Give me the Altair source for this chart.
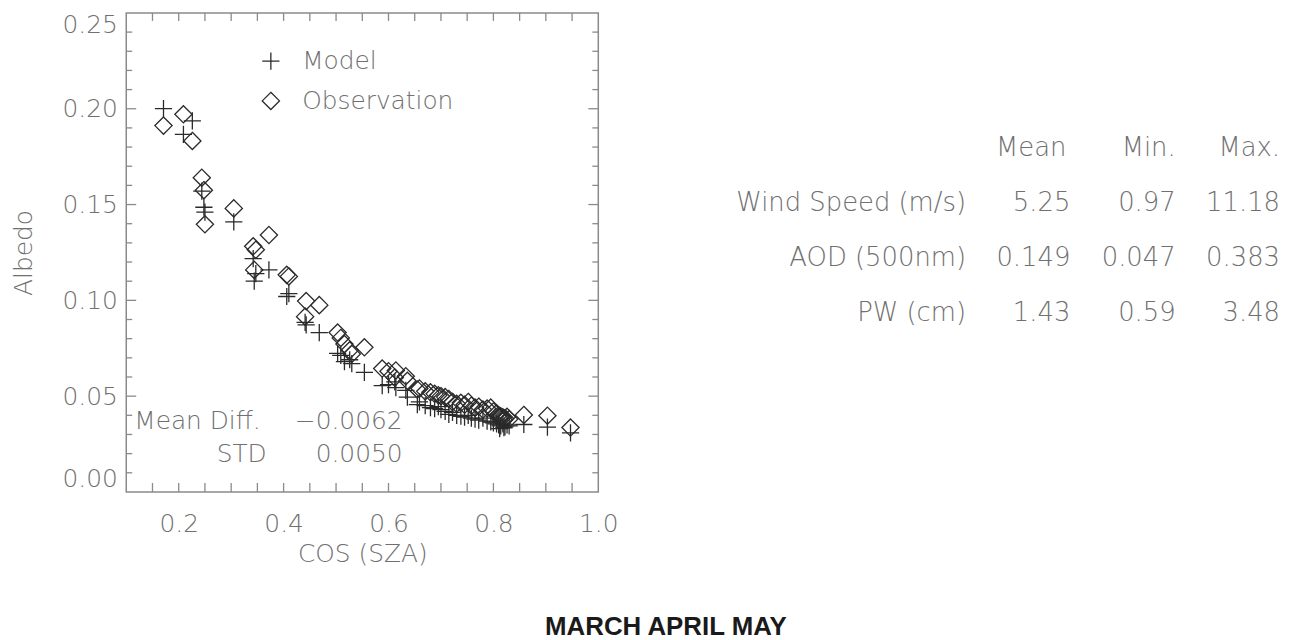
import altair as alt
import pandas as pd

# ---------------- data ----------------
cos_sza = [0.171, 0.209, 0.226, 0.244, 0.248, 0.250, 0.305, 0.342, 0.347, 0.344,
           0.372, 0.406, 0.410, 0.443, 0.441, 0.468, 0.503, 0.509, 0.516, 0.526,
           0.530, 0.554, 0.588, 0.600, 0.614, 0.633, 0.612, 0.636, 0.655, 0.659,
           0.670, 0.680, 0.688, 0.695, 0.700, 0.708, 0.715, 0.722, 0.730, 0.738,
           0.745, 0.752, 0.758, 0.765, 0.772, 0.780, 0.788, 0.795, 0.800, 0.806,
           0.810, 0.814, 0.818, 0.822, 0.826, 0.830, 0.812, 0.820, 0.858, 0.903,
           0.947]
albedo_model = [0.2001, 0.1866, 0.1937, 0.1570, 0.1486, 0.1460, 0.1410, 0.1218, 0.1139, 0.1100,
                0.1159, 0.1020, 0.1035, 0.0872, 0.0885, 0.0832, 0.0723, 0.0713, 0.0680, 0.0690,
                0.0670, 0.0624, 0.0555, 0.0560, 0.0545, 0.0530, 0.0575, 0.0495, 0.0456, 0.0470,
                0.0450, 0.0440, 0.0435, 0.0445, 0.0430, 0.0420, 0.0405, 0.0415, 0.0400, 0.0395,
                0.0390, 0.0400, 0.0385, 0.0380, 0.0375, 0.0385, 0.0370, 0.0365, 0.0360, 0.0355,
                0.0350, 0.0345, 0.0355, 0.0340, 0.0350, 0.0345, 0.0330, 0.0335, 0.0352, 0.0338,
                0.0308]
albedo_obs = [0.1912, 0.1971, 0.1832, 0.1640, 0.1575, 0.1397, 0.1480, 0.1282, 0.1264, 0.1159,
              0.1341, 0.1133, 0.1125, 0.0996, 0.0915, 0.0975, 0.0832, 0.0804, 0.0772, 0.0739,
              0.0720, 0.0755, 0.0644, 0.0630, 0.0634, 0.0604, 0.0597, 0.0580, 0.0535, 0.0540,
              0.0525, 0.0520, 0.0512, 0.0505, 0.0500, 0.0495, 0.0485, 0.0470, 0.0460, 0.0465,
              0.0455, 0.0470, 0.0450, 0.0440, 0.0445, 0.0430, 0.0435, 0.0440, 0.0420, 0.0410,
              0.0400, 0.0395, 0.0390, 0.0385, 0.0392, 0.0380, 0.0385, 0.0375, 0.0402, 0.0398,
              0.0336]

series_names = ["Model", "Observation"]

x_label_values = [0.2, 0.4, 0.6, 0.8, 1.0]
y_label_values = [0.00, 0.05, 0.10, 0.15, 0.20, 0.25]
x_tick_values = [0.15, 0.20, 0.25, 0.30, 0.35, 0.40, 0.45, 0.50, 0.55,
                 0.60, 0.65, 0.70, 0.75, 0.80, 0.85, 0.90, 0.95]
y_tick_major = [0.05, 0.10, 0.15, 0.20]
y_tick_minor = [0.01, 0.02, 0.03, 0.04, 0.06, 0.07, 0.08, 0.09, 0.11, 0.12,
                0.13, 0.14, 0.16, 0.17, 0.18, 0.19, 0.21, 0.22, 0.23, 0.24]

x_title = "COS (SZA)"
y_title = "Albedo"

stat_names = ["Mean Diff.", "STD"]
stat_values = ["\u22120.0062", "0.0050"]

table_header = ["Mean", "Min.", "Max."]
table_rows = ["Wind Speed (m/s)", "AOD (500nm)", "PW (cm)"]
table_mean = ["5.25", "0.149", "1.43"]
table_min = ["0.97", "0.047", "0.59"]
table_max = ["11.18", "0.383", "3.48"]

season = "MARCH APRIL MAY"

# ---------------- styling ----------------
W, H = 475, 482
FONT = "DejaVu Sans"
FW = 200
GRAY = "#707070"
AXC = "#8a8a8a"
MARK = "#2a2a2a"
FS = 25
TFS = 26

CROSS = "M-1,0L1,0M0,-1L0,1"
DIAMOND = "M0,-1L1,0L0,1L-1,0Z"

xs = alt.Scale(domain=[0.1, 1.0], nice=False, zero=False)
ys = alt.Scale(domain=[0.0, 0.25], nice=False, zero=False)

xaxis = alt.Axis(values=x_label_values, format=".1f", ticks=False, domain=False, grid=False,
                 labelFlush=False, labelPadding=20, labelFontSize=FS, labelFont=FONT,
                 labelFontWeight=FW, labelColor=GRAY, title=x_title, titleFontSize=FS,
                 titleFont=FONT, titleFontWeight=FW, titleColor=GRAY, titleY=50,
                 titleBaseline="top")
yaxis = alt.Axis(values=y_label_values, format=".2f", ticks=False, domain=False, grid=False,
                 labelPadding=9, labelFlush=True, labelFontSize=FS, labelFont=FONT,
                 labelFontWeight=FW, labelColor=GRAY, title=y_title, titleFontSize=FS,
                 titleFont=FONT, titleFontWeight=FW, titleColor=GRAY, titleX=-103,
                 titleY=H / 2, titleBaseline="middle", titleAngle=270)

n = len(cos_sza)
df = pd.DataFrame({
    "cos": cos_sza + cos_sza,
    "albedo": albedo_model + albedo_obs,
    "series": [series_names[0]] * n + [series_names[1]] * n,
})

points = alt.Chart(df).mark_point(filled=False, size=300, strokeWidth=1.3, color=MARK,
                                  opacity=1).encode(
    x=alt.X("cos:Q", scale=xs, axis=xaxis),
    y=alt.Y("albedo:Q", scale=ys, axis=yaxis),
    shape=alt.Shape("series:N",
                    scale=alt.Scale(domain=series_names, range=[CROSS, DIAMOND]),
                    legend=alt.Legend(title=None, orient="none", legendX=133, legendY=36,
                                      labelFontSize=FS, labelFont=FONT, labelFontWeight=FW,
                                      labelColor=GRAY, symbolSize=300, symbolStrokeWidth=1.3,
                                      symbolStrokeColor=MARK, symbolFillColor="transparent",
                                      labelOffset=19, rowPadding=14, padding=0)),
)

tick_df_x = pd.DataFrame({"cos": x_tick_values})
tick_df_ymaj = pd.DataFrame({"albedo": y_tick_major})
tick_df_ymin = pd.DataFrame({"albedo": y_tick_minor})


def xtick(y0, y1):
    return alt.Chart(tick_df_x).mark_rule(color=AXC, strokeWidth=1.3).encode(
        x=alt.X("cos:Q", scale=xs, axis=xaxis), y=alt.value(y0), y2=alt.value(y1))


def ytick(data, x0, x1):
    return alt.Chart(data).mark_rule(color=AXC, strokeWidth=1.3).encode(
        y=alt.Y("albedo:Q", scale=ys, axis=yaxis), x=alt.value(x0), x2=alt.value(x1))


ticks = [
    xtick(H, H - 9), xtick(0, 8),
    ytick(tick_df_ymaj, 0, 10), ytick(tick_df_ymin, 0, 6),
    ytick(tick_df_ymaj, W, W - 10), ytick(tick_df_ymin, W, W - 6),
]


def label(txt, x, y, align="left", baseline="alphabetic", size=FS, color=GRAY,
          font=FONT, weight=FW):
    return alt.Chart(pd.DataFrame({"t": [txt]})).mark_text(
        align=align, baseline=baseline, fontSize=size, color=color, font=font,
        fontWeight=weight).encode(text="t:N", x=alt.value(x), y=alt.value(y))


texts = [
    label(stat_names[0], 8, 419),
    label(stat_values[0], 278, 419, align="right"),
    label(stat_names[1], 91, 452),
    label(stat_values[1], 278, 452, align="right"),
]

col_right = [950, 1056, 1161]
row_y = [191, 247, 302]
for j, h in enumerate(table_header):
    texts.append(label(h, col_right[j] - (4 if j == 0 else 0), 136, align="right",
                       baseline="middle", size=TFS))
for i, r in enumerate(table_rows):
    texts.append(label(r, 845, row_y[i], align="right", baseline="middle", size=TFS))
    for j, col in enumerate([table_mean, table_min, table_max]):
        texts.append(label(col[i], col_right[j], row_y[i], align="right",
                           baseline="middle", size=TFS))

texts.append(label(season, 543, 626, align="center", size=26, color="#1a1a1a",
                   font="Liberation Sans", weight="bold"))

chart = alt.layer(*ticks, points, *texts).properties(
    width=W, height=H,
    autosize=alt.AutoSizeParams(type="none"),
    padding={"left": 119, "top": 3, "right": 691, "bottom": 147},
).configure_view(stroke=AXC, strokeWidth=1.5)

chart.save("out.html", embed_options={"renderer": "svg", "actions": False})
